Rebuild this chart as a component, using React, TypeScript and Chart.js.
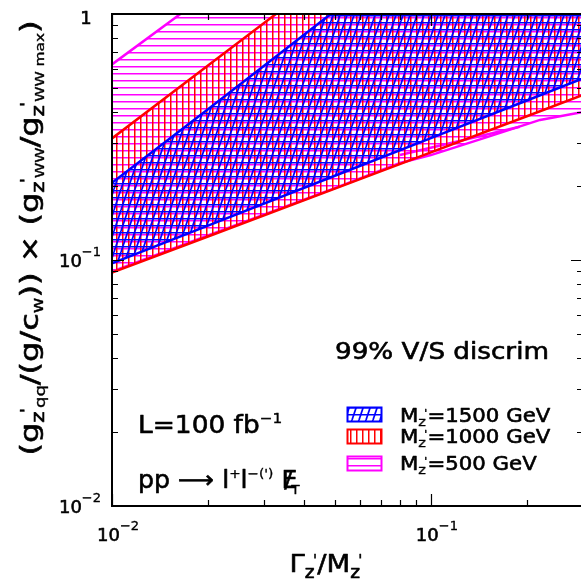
import React, { useEffect, useRef } from 'react';
import { Chart, registerables } from 'chart.js';
Chart.register(...registerables);

// ---------- data ----------
const X_BAND = [0.01, 0.02, 0.05, 0.1, 0.2, 0.3];
const BLUE_UPPER = [0.206, 0.41, 1.03, 2.06, 4.1, 6.2];
const BLUE_LOWER = [0.097, 0.138, 0.22, 0.313, 0.445, 0.547];
const RED_UPPER = [0.312, 0.617, 1.52, 3.0, 5.9, 8.8];
const RED_LOWER = [0.0888, 0.1246, 0.195, 0.274, 0.384, 0.4685];
const MAGENTA_X = [0.01, 0.02, 0.05, 0.08, 0.1, 0.15, 0.22, 0.3];
const MAGENTA_UPPER = [0.624, 1.21, 2.9, 4.6, 5.7, 8.4, 12, 16];
const MAGENTA_LOWER = [0.0898, 0.126, 0.196, 0.248, 0.267, 0.316, 0.371, 0.4];
const MAGENTA_INNER_X = [0.08, 0.19];
const MAGENTA_INNER = [0.267, 0.348];

const X_TICKS = [0.01, 0.02, 0.03, 0.04, 0.05, 0.06, 0.07, 0.08, 0.09, 0.1, 0.2, 0.3];
const Y_TICKS = [0.01, 0.02, 0.03, 0.04, 0.05, 0.06, 0.07, 0.08, 0.09, 0.1, 0.2, 0.3, 0.4, 0.5, 0.6, 0.7, 0.8, 0.9, 1];
const X_LABELS = [{ v: 0.01, base: '10', sup: '\u22122' }, { v: 0.1, base: '10', sup: '\u22121' }];
const Y_LABELS = [{ v: 0.01, base: '10', sup: '\u22122' }, { v: 0.1, base: '10', sup: '\u22121' }, { v: 1, base: '1', sup: '' }];
const LEGEND_MASSES = ['1500', '1000', '500'];

const FAM = '"DejaVu Sans", sans-serif';

type Seg = { t: string; s: number; dy?: number; k?: number };

function richWidth(ctx: CanvasRenderingContext2D, segs: Seg[], sx: number) {
  let w = 0;
  for (const s of segs) {
    ctx.font = `${s.s}px ${FAM}`;
    w += (s.k || 0) + ctx.measureText(s.t).width * sx;
  }
  return w;
}

function drawRich(ctx: CanvasRenderingContext2D, segs: Seg[], x: number, y: number, align: string, sx: number) {
  const w = richWidth(ctx, segs, sx);
  let cx = align === 'center' ? x - w / 2 : align === 'right' ? x - w : x;
  ctx.save();
  ctx.textAlign = 'left';
  ctx.textBaseline = 'alphabetic';
  ctx.fillStyle = '#000';
  ctx.strokeStyle = '#000';
  ctx.lineJoin = 'round';
  for (const s of segs) {
    cx += s.k || 0;
    ctx.font = `${s.s}px ${FAM}`;
    ctx.save();
    ctx.translate(cx, y + (s.dy || 0));
    ctx.scale(sx, 1);
    ctx.lineWidth = s.s > 15 ? 0.6 : 0.35;
    ctx.fillText(s.t, 0, 0);
    ctx.strokeText(s.t, 0, 0);
    ctx.restore();
    cx += ctx.measureText(s.t).width * sx;
  }
  ctx.restore();
}

function zp(main: number): Seg[] {
  return [
    { t: 'z', s: Math.round(main * 0.68), dy: Math.round(main * 0.22) },
    { t: "'", s: Math.round(main * 0.6), dy: -Math.round(main * 0.25), k: -2 },
  ];
}

function makePattern(ctx: CanvasRenderingContext2D, w: number, h: number, draw: (g: CanvasRenderingContext2D) => void) {
  const c = document.createElement('canvas');
  c.width = w;
  c.height = h;
  const g = c.getContext('2d')!;
  draw(g);
  return ctx.createPattern(c, 'repeat')!;
}

export default function App() {
  const ref = useRef<HTMLCanvasElement>(null);
  useEffect(() => {
    const canvas = ref.current!;
    const ctx = canvas.getContext('2d')!;

    const magentaPat = makePattern(ctx, 4, 7, (g) => {
      g.fillStyle = '#ff00ff';
      g.fillRect(0, 3, 4, 1);
      g.fillStyle = 'rgba(255,0,255,0.5)';
      g.fillRect(0, 4, 4, 1);
    });
    const redPat = makePattern(ctx, 6, 4, (g) => {
      g.fillStyle = '#ff0000';
      g.fillRect(2, 0, 1, 4);
      g.fillStyle = 'rgba(255,0,0,0.5)';
      g.fillRect(3, 0, 1, 4);
    });
    const bluePat = makePattern(ctx, 7, 21, (g) => {
      g.fillStyle = '#0000ff';
      for (const yy of [1, 8, 15]) g.fillRect(0, yy, 7, 1);
      g.fillStyle = 'rgba(0,0,255,0.5)';
      for (const yy of [2, 9, 16]) g.fillRect(0, yy, 7, 1);
      g.strokeStyle = '#0000ff';
      g.lineWidth = 1.7;
      for (let k = -1; k <= 1; k++) {
        g.beginPath();
        g.moveTo(2 + k * 7, 21);
        g.lineTo(2 + k * 7 + 7, 0);
        g.stroke();
      }
    });

    const pts = (xs: number[], ys: number[]) => xs.map((x, i) => ({ x, y: ys[i] }));
    const lineDs = (data: any, color: string, fill: any, bg: any) => ({
      data,
      borderColor: color,
      borderWidth: 2.5,
      backgroundColor: bg,
      fill,
      pointRadius: 0,
      tension: 0,
      clip: 0,
    });

    const annot = {
      id: 'annot',
      afterDraw(chart: any) {
        const c: CanvasRenderingContext2D = chart.ctx;
        const xs = chart.scales.x;
        const ys = chart.scales.y;
        const { left, right, top, bottom } = chart.chartArea;
        c.save();
        // ticks
        c.strokeStyle = '#000';
        c.lineWidth = 1.2;
        for (const v of X_TICKS) {
          const px = Math.round(xs.getPixelForValue(v)) + 0.5;
          const major = Math.abs(Math.log10(v) - Math.round(Math.log10(v))) < 1e-6;
          const len = major ? 12 : 6;
          c.beginPath();
          c.moveTo(px, bottom);
          c.lineTo(px, bottom - len);
          c.moveTo(px, top);
          c.lineTo(px, top + len);
          c.stroke();
        }
        for (const v of Y_TICKS) {
          const py = Math.round(ys.getPixelForValue(v)) + 0.5;
          const major = Math.abs(Math.log10(v) - Math.round(Math.log10(v))) < 1e-6;
          const len = major ? 12 : 6;
          c.beginPath();
          c.moveTo(left, py);
          c.lineTo(left + len, py);
          c.moveTo(right, py);
          c.lineTo(right - len, py);
          c.stroke();
        }
        // frame
        c.lineWidth = 2;
        c.strokeRect(left, top, right - left, bottom - top);

        // tick labels
        for (const l of X_LABELS) {
          const px = xs.getPixelForValue(l.v);
          drawRich(c, [{ t: l.base, s: 18 }, { t: l.sup, s: 13, dy: -11 }], px - 15, bottom + 35, 'left', 1);
        }
        for (const l of Y_LABELS) {
          const py = ys.getPixelForValue(l.v);
          if (l.sup) {
            drawRich(c, [{ t: l.base, s: 18 }, { t: l.sup, s: 13, dy: -11 }], left - 11, py + 7, 'right', 1);
          } else {
            drawRich(c, [{ t: l.base, s: 18 }], left - 26, py + 10, 'center', 1);
          }
        }

        // axis titles
        drawRich(c, [{ t: '\u0393', s: 25 }, ...zp(25), { t: '/M', s: 25 }, ...zp(25)], 326, 572, 'center', 1.1);
        c.save();
        c.translate(38, 238);
        c.rotate(-Math.PI / 2);
        drawRich(
          c,
          [
            { t: '(g', s: 25 },
            ...zp(25),
            { t: 'qq', s: 14, dy: 7 },
            { t: '/(g/c', s: 25 },
            { t: 'w', s: 15, dy: 5 },
            { t: ')) \u00d7 (g', s: 25 },
            ...zp(25),
            { t: 'WW', s: 12, dy: 6 },
            { t: '/g', s: 25 },
            ...zp(25),
            { t: 'WW max', s: 12, dy: 6 },
            { t: ')', s: 25 },
          ],
          0,
          0,
          'center',
          1.28
        );
        c.restore();

        // annotations
        drawRich(c, [{ t: '99% V/S discrim', s: 23 }], 335, 359, 'left', 1.14);
        drawRich(c, [{ t: 'L=100 fb', s: 24 }, { t: '\u22121', s: 14, dy: -10 }], 138, 433, 'left', 1.1);
        drawRich(
          c,
          [
            { t: 'pp ', s: 24 },
            { t: '\u27f6', s: 24 },
            { t: ' l', s: 24 },
            { t: '+', s: 13, dy: -10 },
            { t: 'l', s: 24 },
            { t: "\u2212(')", s: 13, dy: -10 },
            { t: ' E', s: 24 },
            { t: '/', s: 22, k: -13 },
            { t: 'T', s: 13, dy: 6, k: -1 },
          ],
          138,
          488,
          'left',
          1.05
        );

        // legend
        const boxes = [
          { y: 407, pat: bluePat, col: '#0000ff', base: 422 },
          { y: 429, pat: redPat, col: '#ff0000', base: 443 },
          { y: 456, pat: magentaPat, col: '#ff00ff', base: 470 },
        ];
        boxes.forEach((b, i) => {
          c.fillStyle = b.pat;
          c.fillRect(347, b.y, 35, 14);
          c.strokeStyle = b.col;
          c.lineWidth = 2;
          c.strokeRect(347.5, b.y + 0.5, 34, 14);
          drawRich(c, [{ t: 'M', s: 19 }, ...zp(19), { t: '=' + LEGEND_MASSES[i] + ' GeV', s: 19 }], 400, b.base, 'left', 1.12);
        });
        c.restore();
      },
    };

    const chart = new Chart(ctx, {
      type: 'line',
      data: {
        datasets: [
          lineDs(pts(X_BAND, BLUE_UPPER), '#0000ff', '+1', bluePat),
          lineDs(pts(X_BAND, BLUE_LOWER), '#0000ff', false, 'transparent'),
          lineDs(pts(X_BAND, RED_UPPER), '#ff0000', '+1', redPat),
          lineDs(pts(X_BAND, RED_LOWER), '#ff0000', false, 'transparent'),
          lineDs(pts(MAGENTA_X, MAGENTA_UPPER), '#ff00ff', '+1', magentaPat),
          lineDs(pts(MAGENTA_X, MAGENTA_LOWER), '#ff00ff', false, 'transparent'),
          lineDs(pts(MAGENTA_INNER_X, MAGENTA_INNER), '#ff00ff', false, 'transparent'),
        ] as any,
      },
      options: {
        responsive: false,
        animation: false,
        devicePixelRatio: 1,
        layout: { padding: { left: 112, top: 14, right: 17, bottom: 76 } },
        scales: {
          x: { type: 'logarithmic', min: 0.01, max: 0.3, display: false },
          y: { type: 'logarithmic', min: 0.01, max: 1, display: false },
        },
        plugins: { legend: { display: false }, tooltip: { enabled: false } },
        events: [],
      } as any,
      plugins: [annot],
    });
    return () => chart.destroy();
  }, []);
  return (
    <div style={{ position: 'fixed', left: 0, top: 0, width: 600, height: 582, background: '#fff' }}>
      <canvas ref={ref} width={600} height={582} style={{ display: 'block' }} />
    </div>
  );
}
